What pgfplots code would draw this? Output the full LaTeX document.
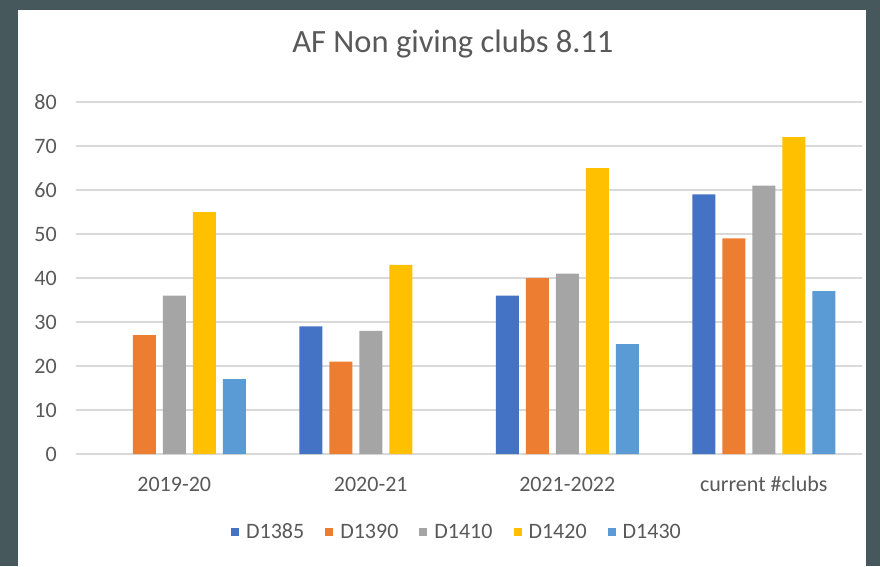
\documentclass[border=0pt]{standalone}
\usepackage{pgfplots}
\pgfplotsset{compat=1.18}
\usepackage{fontspec}
\setmainfont{Carlito}
\definecolor{cA}{HTML}{4472C4}
\definecolor{cB}{HTML}{ED7D31}
\definecolor{cC}{HTML}{A5A5A5}
\definecolor{cD}{HTML}{FFC000}
\definecolor{cE}{HTML}{5B9BD5}
\definecolor{txt}{HTML}{595959}
\definecolor{gridc}{HTML}{D9D9D9}
\definecolor{framec}{HTML}{46585C}
\begin{document}
\begin{tikzpicture}
\fill[framec] (0pt,0pt) rectangle (880pt,566pt);
\fill[white] (18pt,0pt) rectangle (866pt,556pt);
\begin{axis}[
  at={(76pt,112pt)}, anchor=south west,
  scale only axis, width=786pt, height=352pt,
  xmin=-0.5, xmax=3.5, ymin=0, ymax=80,
  enlargelimits=false,
  ytick={0,10,...,80},
  xtick={0,1,2,3},
  xticklabels={2019-20,2020-21,2021-2022,current \#clubs},
  ymajorgrids, grid style={gridc, line width=1.3pt},
  axis line style={draw=none},
  major tick length=0pt,
  ybar=7pt, bar width=23pt,
  /pgf/number format/assume math mode=true,
  tick label style={font=\fontsize{22}{26}\selectfont, color=txt},
  yticklabel style={anchor=east, inner sep=0pt, xshift=-19pt},
  xticklabel style={anchor=north, inner sep=0pt, text height=14pt, text depth=4pt, yshift=-23pt},
  title={AF Non giving clubs 8.11},
  title style={at={(axis description cs:0.4796,1.1477)}, anchor=center, font=\fontsize{32.5}{38}\selectfont, color=txt},
  legend columns=5,
  legend style={at={(axis description cs:0.4847,-0.2216)}, anchor=center, draw=none, fill=none,
    font=\fontsize{22}{26}\selectfont, text=txt,
    /tikz/every odd column/.append style={column sep=5pt},
    /tikz/every even column/.append style={column sep=19pt},
    nodes={inner sep=2pt}},
  legend image code/.code={\fill[#1] (0pt,-4pt) rectangle (8pt,4pt);},
  every axis plot/.append style={draw=none},
]
\addplot[fill=cA] coordinates {(1,29) (2,36) (3,59)};
\addplot[fill=cB] coordinates {(0,27) (1,21) (2,40) (3,49)};
\addplot[fill=cC] coordinates {(0,36) (1,28) (2,41) (3,61)};
\addplot[fill=cD] coordinates {(0,55) (1,43) (2,65) (3,72)};
\addplot[fill=cE] coordinates {(0,17) (2,25) (3,37)};
\legend{D1385,D1390,D1410,D1420,D1430}
\end{axis}
\end{tikzpicture}
\end{document}
